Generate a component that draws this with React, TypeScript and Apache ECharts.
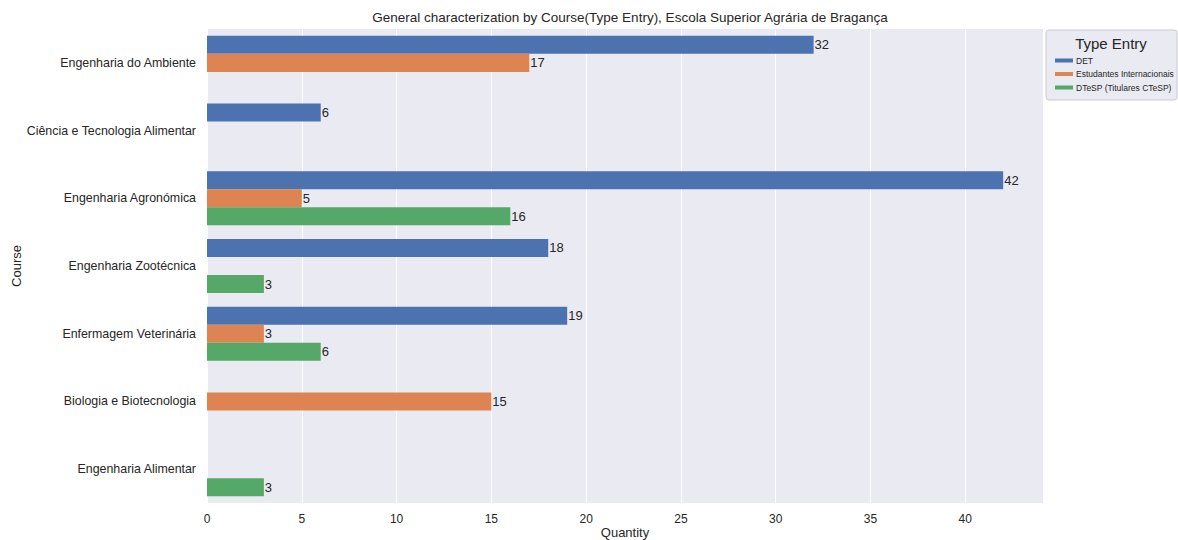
import React, { useEffect, useRef } from "react";
import * as echarts from "echarts";

const courses = [
  "Engenharia do Ambiente",
  "Ciência e Tecnologia Alimentar",
  "Engenharia Agronómica",
  "Engenharia Zootécnica",
  "Enfermagem Veterinária",
  "Biologia e Biotecnologia",
  "Engenharia Alimentar",
];
const seriesNames = ["DET", "Estudantes Internacionais", "DTeSP (Titulares CTeSP)"];
const detValues = [32, 6, 42, 18, 19, null, null];
const intValues = [17, null, 5, null, 3, 15, null];
const dtespValues = [null, null, 16, 3, 6, null, 3];
const xTicks = [0, 5, 10, 15, 20, 25, 30, 35, 40];
const colors = ["#4C72B0", "#DD8452", "#55A868"];

export default function App() {
  const ref = useRef<HTMLDivElement>(null);
  useEffect(() => {
    const chart = echarts.init(ref.current!, null, { renderer: "svg" });
    const font = "Liberation Sans, Arial, sans-serif";
    const values = [detValues, intValues, dtespValues];
    chart.setOption({
      animation: false,
      textStyle: { fontFamily: font },
      title: {
        text: "General characterization by Course(Type Entry), Escola Superior Agrária de Bragança",
        left: 625,
        textAlign: "center",
        top: 5,
        textStyle: { fontSize: 13.5, fontWeight: "normal", color: "#262626", fontFamily: font },
      },
      grid: {
        left: 207,
        right: 135,
        top: 29,
        bottom: 37,
        backgroundColor: "#EAEAF2",
        show: true,
        borderWidth: 0,
        outerBoundsMode: "none",
        containLabel: false,
      },
      legend: {
        orient: "vertical",
        left: 1050,
        top: 51,
        itemWidth: 18,
        itemHeight: 4,
        itemGap: 4.5,
        icon: "rect",
        data: seriesNames,
        textStyle: { fontSize: 8.5, color: "#262626", fontFamily: font, padding: [0, 0, 0, -2] },
      },
      graphic: [
        {
          type: "rect",
          shape: { x: 1046, y: 30, width: 131, height: 70, r: 3 },
          style: { fill: "#EAEAF2", stroke: "#cccccc", lineWidth: 1 },
          z: 0,
        },
        {
          type: "text",
          x: 1111,
          y: 36,
          style: { text: "Type Entry", fontSize: 15, fill: "#262626", font: `15px ${font}`, textAlign: "center" },
          z: 10,
        },
      ],
      xAxis: {
        type: "value",
        min: 0,
        max: 44.1,
        interval: 5,
        name: "Quantity",
        nameLocation: "middle",
        nameGap: 23,
        nameMoveOverlap: false,
        nameTextStyle: { fontSize: 13, color: "#262626" },
        axisLine: { show: false },
        axisTick: { show: false },
        axisLabel: {
          fontSize: 12,
          color: "#262626",
          margin: 10,
          formatter: (v: number) => (xTicks.includes(v) ? String(v) : ""),
        },
        splitLine: { show: true, lineStyle: { color: "#ffffff", width: 1 } },
      },
      yAxis: {
        type: "category",
        data: courses,
        inverse: true,
        name: "Course",
        nameLocation: "middle",
        nameGap: 184,
        nameMoveOverlap: false,
        nameRotate: 90,
        nameTextStyle: { fontSize: 13, color: "#262626" },
        axisLine: { show: false },
        axisTick: { show: false },
        axisLabel: { fontSize: 12.4, color: "#262626", margin: 11 },
        splitLine: { show: false },
      },
      series: seriesNames.map((name, i) => ({
        name,
        type: "bar",
        data: values[i],
        itemStyle: { color: colors[i] },
        barGap: "0%",
        barCategoryGap: "20%",
        label: {
          show: true,
          position: "right",
          distance: 1,
          fontSize: 13,
          color: "#262626",
        },
      })),
    });
    return () => chart.dispose();
  }, []);
  return <div ref={ref} style={{ width: 1178, height: 540, position: "absolute", left: 0, top: 0 }} />;
}
